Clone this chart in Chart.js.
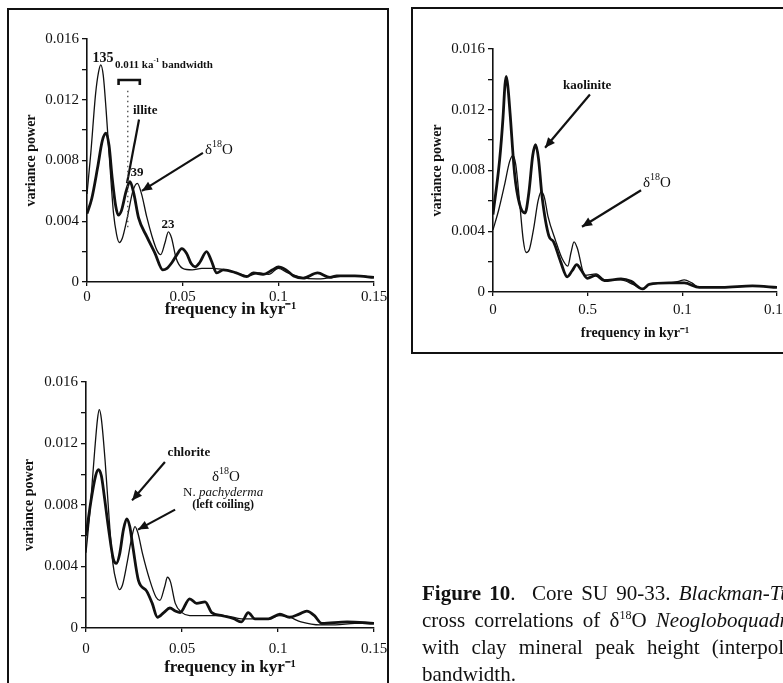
<!DOCTYPE html>
<html lang="en">
<head>
<meta charset="UTF-8">
<title>Figure 10 - SU 90-33 spectra</title>
<script src="https://cdn.jsdelivr.net/npm/chart.js"></script>
<style>
  body { margin: 0; background: #fff; }
  #page { position: relative; width: 783px; height: 683px; overflow: hidden; background: #fff;
          font-family: 'Liberation Serif', 'Times New Roman', serif; color: #111; }
  .panel { position: absolute; left: 0; top: 0; }
  .box { position: absolute; border: 2px solid #111; box-sizing: border-box; }
  #caption { position: absolute; left: 422px; top: 580px; font-size: 21px; line-height: 27px; white-space: nowrap; }
  #caption sup { font-size: 12px; line-height: 0; vertical-align: 8px; }
</style>
</head>
<body>
<div id="page">
  <div class="box" style="left:7px; top:8px; width:382px; height:700px;"></div>
  <div class="box" style="left:411px; top:7px; width:400px; height:347px;"></div>

  <div class="panel" style="width:783px; height:683px;"><canvas id="illiteChart"></canvas></div>
  <div class="panel" style="width:800px; height:683px;"><canvas id="kaoliniteChart"></canvas></div>
  <div class="panel" style="width:783px; height:683px;"><canvas id="chloriteChart"></canvas></div>

  <div id="caption">
    <div style="word-spacing:3px"><b>Figure 10</b>.&nbsp; Core SU 90-33. <i>Blackman-Tukey</i></div>
    <div style="word-spacing:4px">cross correlations of &delta;<sup>18</sup>O <i>Neogloboquadrina</i></div>
    <div style="word-spacing:7px">with clay mineral peak height (interpolated</div>
    <div>bandwidth.</div>
  </div>
</div>

<script>
  // tick labels
  const yTickLabels = ['0', '', '0.004', '', '0.008', '', '0.012', '', '0.016'];
  const xTickLabels = ['0', '0.05', '0.1', '0.15'];
  const xTickLabelsKaolinite = ['0', '0.5', '0.1', '0.15'];

  // top left: illite vs d18O
  const d18oFreq1 = [0, 0.002, 0.0045, 0.006, 0.0072, 0.0085, 0.0100, 0.0118, 0.0138, 0.0155, 0.0169, 0.0185, 0.0210, 0.0240, 0.0263, 0.0285, 0.0312, 0.034, 0.0365, 0.0385, 0.0408, 0.0425, 0.0442, 0.0465, 0.050, 0.055, 0.060, 0.066, 0.072, 0.078, 0.084, 0.090, 0.095, 0.100, 0.105, 0.112, 0.120, 0.128, 0.136, 0.143, 0.150];
  const d18oPower1 = [0.0058, 0.0085, 0.0124, 0.0138, 0.0143, 0.0136, 0.0113, 0.0080, 0.0046, 0.0031, 0.0026, 0.0029, 0.0042, 0.0060, 0.0065, 0.0058, 0.0043, 0.0030, 0.0021, 0.0018, 0.0026, 0.0033, 0.0029, 0.0016, 0.0009, 0.0008, 0.0009, 0.0009, 0.0008, 0.0006, 0.0004, 0.0006, 0.0005, 0.0009, 0.0006, 0.0003, 0.0002, 0.0003, 0.0004, 0.0004, 0.0003];
  const illiteFreq = [0, 0.0025, 0.0055, 0.0080, 0.0099, 0.0115, 0.0132, 0.0150, 0.0164, 0.0180, 0.0205, 0.0225, 0.0245, 0.0270, 0.0312, 0.0355, 0.0396, 0.0418, 0.0445, 0.0470, 0.0495, 0.0520, 0.0545, 0.0565, 0.0590, 0.0625, 0.0650, 0.0678, 0.0713, 0.078, 0.0835, 0.087, 0.092, 0.097, 0.100, 0.104, 0.108, 0.113, 0.1205, 0.127, 0.1305, 0.14, 0.15];
  const illitePower = [0.0045, 0.0055, 0.0075, 0.0093, 0.0098, 0.0090, 0.0068, 0.0050, 0.0044, 0.0047, 0.0060, 0.0066, 0.0058, 0.0042, 0.0030, 0.0019, 0.0008, 0.0009, 0.0013, 0.0018, 0.0022, 0.0019, 0.0012, 0.0010, 0.0013, 0.0020, 0.0014, 0.0006, 0.0008, 0.0006, 0.00035, 0.0006, 0.0005, 0.0008, 0.001, 0.0008, 0.0004, 0.00025, 0.0006, 0.0003, 0.0004, 0.0004, 0.0003];

  // top right: kaolinite vs d18O
  const d18oFreq2 = [0, 0.003, 0.0060, 0.0088, 0.0105, 0.0120, 0.0140, 0.0160, 0.0175, 0.0192, 0.0215, 0.0238, 0.0255, 0.0272, 0.029, 0.033, 0.0365, 0.0395, 0.0412, 0.0428, 0.0445, 0.0485, 0.0545, 0.059, 0.0675, 0.074, 0.079, 0.0825, 0.093, 0.098, 0.101, 0.105, 0.109, 0.121, 0.137, 0.150];
  const d18oPower2 = [0.0041, 0.0054, 0.0070, 0.0086, 0.0090, 0.0084, 0.0060, 0.0034, 0.0026, 0.0028, 0.0042, 0.0060, 0.0066, 0.0062, 0.0050, 0.0034, 0.0022, 0.0017, 0.0026, 0.0033, 0.0029, 0.0011, 0.0012, 0.0008, 0.0008, 0.0005, 0.0002, 0.0005, 0.0006, 0.0007, 0.0008, 0.0006, 0.0003, 0.0003, 0.0004, 0.0003];
  const kaoliniteFreq = [0, 0.0035, 0.0053, 0.0063, 0.0070, 0.0078, 0.0090, 0.0114, 0.0140, 0.0169, 0.0190, 0.0210, 0.0225, 0.0240, 0.026, 0.0295, 0.032, 0.0357, 0.0392, 0.0418, 0.0442, 0.0468, 0.0498, 0.0543, 0.0588, 0.0676, 0.073, 0.079, 0.0825, 0.093, 0.101, 0.109, 0.121, 0.137, 0.150];
  const kaolinitePower = [0.0051, 0.0087, 0.0115, 0.0136, 0.0142, 0.0136, 0.0118, 0.0078, 0.0058, 0.0052, 0.0066, 0.0090, 0.0097, 0.0088, 0.0062, 0.0037, 0.0033, 0.0020, 0.0010, 0.0014, 0.0018, 0.0014, 0.0009, 0.0011, 0.00075, 0.00086, 0.0007, 0.0002, 0.0005, 0.0006, 0.0006, 0.0003, 0.0003, 0.0004, 0.0003];

  // bottom left: chlorite vs d18O N. pachyderma
  const d18oFreq3 = [0, 0.002, 0.0045, 0.0060, 0.0069, 0.0080, 0.0100, 0.0120, 0.0140, 0.0160, 0.0174, 0.019, 0.0215, 0.0240, 0.0255, 0.027, 0.0295, 0.033, 0.0365, 0.0385, 0.041, 0.0424, 0.044, 0.0465, 0.050, 0.054, 0.060, 0.066, 0.072, 0.081, 0.088, 0.095, 0.101, 0.106, 0.112, 0.122, 0.13, 0.14, 0.15];
  const d18oPower3 = [0.0049, 0.0075, 0.0115, 0.0136, 0.0142, 0.0136, 0.0108, 0.0072, 0.0042, 0.0029, 0.0025, 0.0028, 0.0043, 0.0060, 0.0066, 0.0062, 0.0048, 0.0032, 0.0020, 0.0018, 0.0027, 0.0033, 0.0030, 0.0016, 0.001, 0.0008, 0.0008, 0.0008, 0.0008, 0.0006, 0.0006, 0.0006, 0.0008, 0.0007, 0.0004, 0.0002, 0.0002, 0.0003, 0.0003];
  const chloriteFreq = [0, 0.0025, 0.0050, 0.0065, 0.0080, 0.0095, 0.0116, 0.0142, 0.0158, 0.0175, 0.0195, 0.0212, 0.0228, 0.0245, 0.0273, 0.0316, 0.0345, 0.0372, 0.0405, 0.0437, 0.0465, 0.049, 0.054, 0.0576, 0.062, 0.0655, 0.071, 0.077, 0.081, 0.0845, 0.088, 0.095, 0.101, 0.106, 0.111, 0.115, 0.119, 0.1228, 0.136, 0.15];
  const chloritePower = [0.0060, 0.0082, 0.0099, 0.0103, 0.0099, 0.0086, 0.0066, 0.0045, 0.0042, 0.0048, 0.0064, 0.0071, 0.0066, 0.0052, 0.0031, 0.0024, 0.0016, 0.0007, 0.0010, 0.0013, 0.0011, 0.0010, 0.0019, 0.0016, 0.0017, 0.0010, 0.0008, 0.0006, 0.0004, 0.0010, 0.0006, 0.0006, 0.0009, 0.0007, 0.0009, 0.0011, 0.0008, 0.0003, 0.0004, 0.0003];

  const FONT = "'Liberation Serif', 'Times New Roman', serif";
  const INK = '#111';
  Chart.defaults.font.family = FONT;
  Chart.defaults.color = INK;

  function drawRich(ctx, parts, x, y, size, align) {
    const fontOf = p => (p.italic ? 'italic ' : '') + (p.bold ? 'bold ' : '') +
      (p.sup ? Math.round(size * 0.65) : size) + 'px ' + FONT;
    let w = 0;
    parts.forEach(p => { ctx.font = fontOf(p); w += ctx.measureText(p.t).width; });
    let cx = align === 'center' ? x - w / 2 : x;
    ctx.textAlign = 'left';
    ctx.textBaseline = 'middle';
    parts.forEach(p => {
      ctx.font = fontOf(p);
      ctx.fillText(p.t, cx, p.sup ? y - size * 0.38 : y);
      cx += ctx.measureText(p.t).width;
    });
  }

  function arrow(ctx, x0, y0, x1, y1, head) {
    ctx.beginPath();
    ctx.moveTo(x0, y0);
    ctx.lineTo(x1, y1);
    ctx.stroke();
    if (!head) return;
    const a = Math.atan2(y1 - y0, x1 - x0);
    ctx.beginPath();
    ctx.moveTo(x1, y1);
    ctx.lineTo(x1 - 10 * Math.cos(a) + 4.5 * Math.sin(a), y1 - 10 * Math.sin(a) - 4.5 * Math.cos(a));
    ctx.lineTo(x1 - 10 * Math.cos(a) - 4.5 * Math.sin(a), y1 - 10 * Math.sin(a) + 4.5 * Math.cos(a));
    ctx.closePath();
    ctx.fill();
  }

  // labels, arrows etc. placed in data units
  function notesPlugin(cfg) {
    return {
      id: 'notes',
      afterDatasetsDraw(chart) {
        const {ctx, scales: {x, y}} = chart;
        ctx.save();
        ctx.fillStyle = INK;
        ctx.strokeStyle = INK;
        (cfg.notes || []).forEach(n => {
          drawRich(ctx, n.parts, x.getPixelForValue(n.f), y.getPixelForValue(n.v), n.size, n.align);
        });
        ctx.lineWidth = 2.2;
        (cfg.arrows || []).forEach(a => {
          arrow(ctx, x.getPixelForValue(a[0]), y.getPixelForValue(a[1]),
                x.getPixelForValue(a[2]), y.getPixelForValue(a[3]), a[4]);
        });
        if (cfg.dotted) {
          const d = cfg.dotted;
          ctx.lineWidth = 1.4;
          ctx.setLineDash([1.5, 3.5]);
          ctx.strokeStyle = '#555';
          arrow(ctx, x.getPixelForValue(d[0]), y.getPixelForValue(d[1]), x.getPixelForValue(d[0]), y.getPixelForValue(d[2]), false);
          ctx.setLineDash([]);
          ctx.strokeStyle = INK;
        }
        if (cfg.bracket) {
          const b = cfg.bracket;
          const bx0 = x.getPixelForValue(b[0]), bx1 = x.getPixelForValue(b[1]), by = y.getPixelForValue(b[2]);
          ctx.lineWidth = 2.6;
          ctx.beginPath();
          ctx.moveTo(bx0, by + 5);
          ctx.lineTo(bx0, by);
          ctx.lineTo(bx1, by);
          ctx.lineTo(bx1, by + 5);
          ctx.stroke();
        }
        ctx.restore();
      }
    };
  }

  const delta = [{t: 'δ'}, {t: '18', sup: true}, {t: 'O'}];

  function makePanel(id, cfg) {
    return new Chart(document.getElementById(id), {
      type: 'line',
      data: {
        datasets: cfg.series.map(s => ({
          data: s.f.map((f, i) => ({x: f, y: s.v[i]})),
          borderColor: INK,
          borderWidth: s.w,
          pointRadius: 0,
          tension: 0.4,
          cubicInterpolationMode: 'monotone',
          fill: false
        }))
      },
      options: {
        responsive: true,
        maintainAspectRatio: false,
        animation: false,
        layout: {padding: cfg.padding},
        plugins: {legend: {display: false}, tooltip: {enabled: false}},
        scales: {
          x: {
            type: 'linear', min: 0, max: 0.15,
            afterFit: s => { s.height = cfg.xH; },
            border: {color: INK, width: 1.6},
            grid: {drawOnChartArea: false, tickLength: 4, color: INK, lineWidth: 1.3},
            ticks: {stepSize: 0.05, autoSkip: false, maxRotation: 0, padding: cfg.xPad, color: INK,
                    font: {size: 15}, callback: (v, i) => cfg.xLabels[i]},
            title: {display: true, text: 'frequency in kyr⁻¹', color: INK,
                    font: {size: cfg.xTitleSize, weight: 'bold'}, padding: {top: 0, bottom: 2}}
          },
          y: {
            min: 0, max: 0.016,
            afterFit: s => { s.width = cfg.yW; },
            border: {color: INK, width: 1.6},
            grid: {drawOnChartArea: false, tickLength: 5, color: INK, lineWidth: 1.3},
            ticks: {stepSize: 0.002, autoSkip: false, padding: 3, color: INK,
                    font: {size: 15}, callback: (v, i) => yTickLabels[i]},
            title: {display: true, text: 'variance power', color: INK,
                    font: {size: 14, weight: 'bold'}, padding: {top: 3, bottom: 0}}
          }
        }
      },
      plugins: [notesPlugin(cfg)]
    });
  }

  makePanel('illiteChart', {
    series: [{f: d18oFreq1, v: d18oPower1, w: 1.3}, {f: illiteFreq, v: illitePower, w: 2.8}],
    padding: {left: 20, top: 39, right: 409, bottom: 361},
    yW: 67, xH: 40, xPad: 2, xTitleSize: 17, xLabels: xTickLabels,
    notes: [
      {parts: [{t: '135', bold: true}], f: 0.0084, v: 0.0147, size: 14, align: 'center'},
      {parts: [{t: '0.011 ka', bold: true}, {t: '-1', sup: true, bold: true}, {t: ' bandwidth', bold: true}], f: 0.0146, v: 0.0143, size: 11, align: 'left'},
      {parts: [{t: 'illite', bold: true}], f: 0.0240, v: 0.0113, size: 13, align: 'left'},
      {parts: delta, f: 0.0617, v: 0.0087, size: 15, align: 'left'},
      {parts: [{t: '39', bold: true}], f: 0.0261, v: 0.0072, size: 13, align: 'center'},
      {parts: [{t: '23', bold: true}], f: 0.0423, v: 0.0038, size: 13, align: 'center'}
    ],
    arrows: [[0.0606, 0.0085, 0.0287, 0.0060, true], [0.0272, 0.0107, 0.0209, 0.0065, false]],
    dotted: [0.0213, 0.0126, 0.0034],
    bracket: [0.0165, 0.0276, 0.0133]
  });

  makePanel('kaoliniteChart', {
    series: [{f: d18oFreq2, v: d18oPower2, w: 1.3}, {f: kaoliniteFreq, v: kaolinitePower, w: 2.8}],
    padding: {left: 426, top: 49, right: 23, bottom: 339},
    yW: 67, xH: 52, xPad: 5, xTitleSize: 14, xLabels: xTickLabelsKaolinite,
    notes: [
      {parts: [{t: 'kaolinite', bold: true}], f: 0.0497, v: 0.0136, size: 13, align: 'center'},
      {parts: delta, f: 0.0792, v: 0.0072, size: 15, align: 'left'}
    ],
    arrows: [[0.0512, 0.0130, 0.0275, 0.0095, true], [0.0782, 0.0067, 0.0470, 0.0043, true]]
  });

  makePanel('chloriteChart', {
    series: [{f: d18oFreq3, v: d18oPower3, w: 1.3}, {f: chloriteFreq, v: chloritePower, w: 2.8}],
    padding: {left: 18, top: 382, right: 409, bottom: 3},
    yW: 68, xH: 52, xPad: 8, xTitleSize: 17, xLabels: xTickLabels,
    notes: [
      {parts: [{t: 'chlorite', bold: true}], f: 0.0536, v: 0.0114, size: 13, align: 'center'},
      {parts: delta, f: 0.0729, v: 0.0098, size: 15, align: 'center'},
      {parts: [{t: 'N. '}, {t: 'pachyderma', italic: true}], f: 0.0714, v: 0.0088, size: 13, align: 'center'},
      {parts: [{t: '(left coiling)', bold: true}], f: 0.0714, v: 0.0080, size: 12, align: 'center'}
    ],
    arrows: [[0.0411, 0.0108, 0.0240, 0.0083, true], [0.0464, 0.0077, 0.0271, 0.0064, true]]
  });
</script>
</body>
</html>
